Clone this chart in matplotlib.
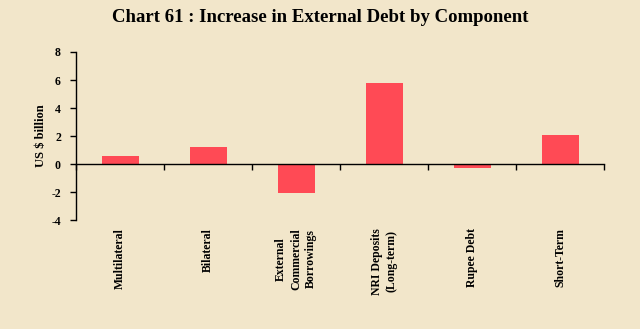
import matplotlib
matplotlib.use("Agg")
import matplotlib.pyplot as plt
import matplotlib.transforms as mtransforms

plt.rcParams['font.family'] = ['Liberation Serif', 'DejaVu Serif']
plt.rcParams['font.weight'] = 'bold'

categories = ['Multilateral', 'Bilateral', 'External\nCommercial\nBorrowings',
              'NRI Deposits\n(Long-term)', 'Rupee Debt', 'Short-Term']
values = [0.6, 1.2, -2.05, 5.8, -0.25, 2.1]
yticks = [-4, -2, 0, 2, 4, 6, 8]

bg = '#F2E6CA'
bar_color = '#FF4A55'

fig = plt.figure(figsize=(6.4, 3.29), dpi=100, facecolor=bg)
ax = fig.add_axes([0.119, 0.331, 0.825, 0.511], facecolor=bg)

x = list(range(len(categories)))
ax.bar(x, values, width=0.42, color=bar_color, zorder=2)

ax.set_xlim(-0.5, len(categories) - 0.5)
ax.set_ylim(-4, 8)
ax.set_yticks(yticks)
ax.set_yticklabels([str(v) for v in yticks], fontsize=8.5, fontweight='bold')
ax.tick_params(axis='y', direction='out', length=4, width=1, pad=7)

for side in ['top', 'right']:
    ax.spines[side].set_visible(False)
ax.spines['bottom'].set_position(('data', 0))
ax.spines['left'].set_linewidth(1)
ax.spines['bottom'].set_linewidth(1)
ax.set_xticks([i - 0.5 for i in range(len(categories) + 1)])
ax.set_xticklabels([])
ax.tick_params(axis='x', direction='out', length=4, width=1)

trans = mtransforms.blended_transform_factory(ax.transData, fig.transFigure)
for i, lab in enumerate(categories):
    ax.text(i, 1 - 228 / 329, lab, transform=trans, rotation=90,
            ha='center', va='top', multialignment='center',
            fontsize=8.5, fontweight='bold', linespacing=1.35)

ax.set_ylabel('US $ billion', fontsize=9, fontweight='bold', labelpad=3)

fig.text(0.5, 1 - 18 / 329, 'Chart 61 : Increase in External Debt by Component',
         ha='center', va='center', fontsize=13.5, fontweight='bold')

fig.savefig('out.png', dpi=100, facecolor=bg)
